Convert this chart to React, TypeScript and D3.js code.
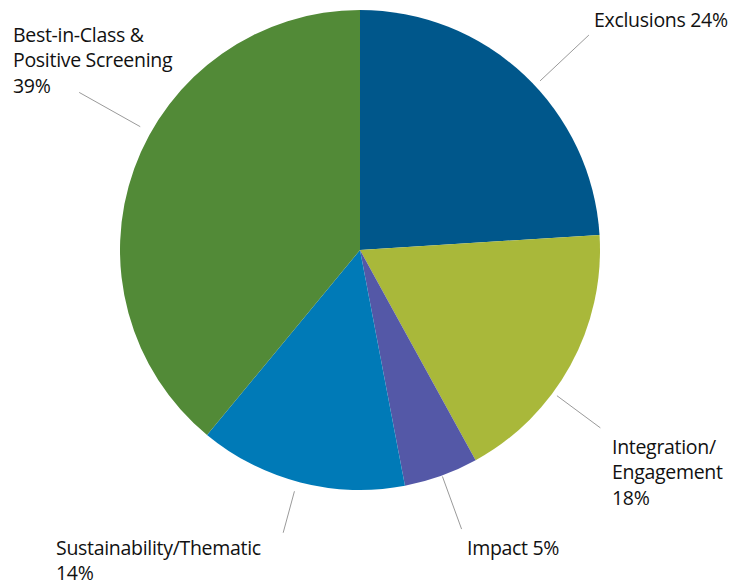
import React from "react";
import * as d3 from "d3";

const categories = ["Exclusions", "Integration/Engagement", "Impact", "Sustainability/Thematic", "Best-in-Class & Positive Screening"];
const values = [24, 18, 5, 14, 39];
const colors = ["#00578B", "#A9B83A", "#5458A7", "#007AB7", "#528A37"];
const labelLines = [
  ["Exclusions 24%"],
  ["Integration/", "Engagement", "18%"],
  ["Impact 5%"],
  ["Sustainability/Thematic", "14%"],
  ["Best-in-Class &", "Positive Screening", "39%"],
];

// layout (not data)
const W = 746, H = 587;
const cx = 360, cy = 250, R = 240;
const leader = [
  { a: 46.8, r0: 247, r1: 314, tx: 594, ty: 27 },
  { a: 126.5, r0: 245, r1: 299, tx: 612, ty: 454 },
  { a: 160, r0: 241, r1: 297, tx: 467, ty: 555 },
  { a: 195.2, r0: 250, r1: 293, tx: 56, ty: 555 },
  { a: 299.3, r0: 252, r1: 322, tx: 13, ty: 42 },
];
const lineH = 25.3;

export default function App() {
  const pie = d3.pie<number>().sort(null).value((d) => d);
  const arcs = pie(values);
  const arc = d3.arc<d3.PieArcDatum<number>>().innerRadius(0).outerRadius(R);
  const pt = (deg: number, r: number) => {
    const t = (deg * Math.PI) / 180;
    return [cx + r * Math.sin(t), cy - r * Math.cos(t)];
  };
  return (
    <svg width={W} height={H} style={{ position: "absolute", left: 0, top: 0 }}>
      <rect width={W} height={H} fill="#fff" />
      <g transform={`translate(${cx},${cy})`}>
        {arcs.map((d, i) => (
          <path key={categories[i]} d={arc(d) || ""} fill={colors[i]} />
        ))}
      </g>
      {leader.map((l, i) => {
        const [x0, y0] = pt(l.a, l.r0);
        const [x1, y1] = pt(l.a, l.r1);
        return <line key={"l" + i} x1={x0} y1={y0} x2={x1} y2={y1} stroke="#9a9a9a" strokeWidth={1} />;
      })}
      {leader.map((l, i) => (
        <text key={"t" + i} x={l.tx} y={l.ty} fontFamily="Open Sans, sans-serif" fontSize={19.5} fill="#111" letterSpacing={-0.3}>
          {labelLines[i].map((s, j) => (
            <tspan key={j} x={l.tx} y={l.ty + j * lineH}>{s}</tspan>
          ))}
        </text>
      ))}
    </svg>
  );
}
